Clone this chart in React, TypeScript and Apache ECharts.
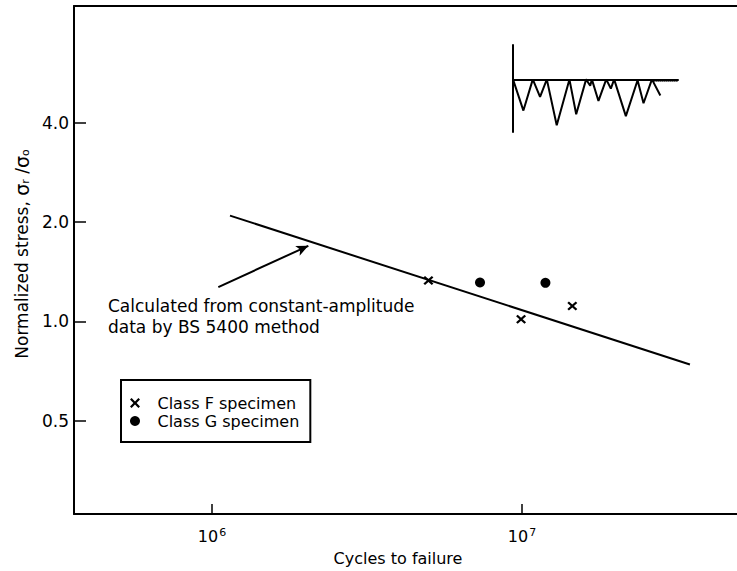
import React, { useEffect, useRef } from "react";
import * as echarts from "echarts";

// Fatigue test results: normalized stress range vs cycles to failure
const classF: [number, number][] = [
  [4.99e6, 1.33],
  [9.93e6, 1.015],
  [1.453e7, 1.113],
];
const classG: [number, number][] = [
  [7.32e6, 1.311],
  [1.19e7, 1.308],
];
// Design line calculated from constant-amplitude data (BS 5400)
const designLine: [number, number][] = [
  [1.143e6, 2.09],
  [3.48e7, 0.74],
];
// Pointer from the note to the design line
const arrowFrom: [number, number] = [1.048e6, 1.27];
const arrowTo: [number, number] = [2.045e6, 1.693];

const yTicks = [0.5, 1, 2, 4];
const xTicks = [1e6, 1e7];

// Variable-amplitude stress history sketch (time, stress below the peak level)
const historyT = [0, 6.3, 12.0, 16.4, 20.5, 26.5, 34.2, 38.3, 44.3, 46.8, 47.8, 51.8, 56.5, 59.3, 61.3, 68.4, 75.5, 79.1, 84.2, 89.3];
const historyS = [0, -0.68, 0, -0.38, 0, -1.0, 0, -0.76, 0, -0.14, 0, -0.47, 0, -0.2, 0, -0.8, -0.02, -0.52, 0, -0.35];

const FONT = "DejaVu Sans";
const X_MIN = 358800;
const X_MAX = 4.937e7;
const crossPath =
  "path://M0,1.6L1.6,0L5,3.4L8.4,0L10,1.6L6.6,5L10,8.4L8.4,10L5,6.6L1.6,10L0,8.4L3.4,5Z";

export default function App() {
  const ref = useRef<HTMLDivElement>(null);

  useEffect(() => {
    if (!ref.current) return;
    const chart = echarts.init(ref.current, null, { renderer: "svg" });
    const black = "#000";

    chart.setOption({
      animation: false,
      backgroundColor: "#fff",
      textStyle: { fontFamily: FONT, color: black },
      grid: [
        { left: 74, top: 6, right: 0, bottom: 53 },
        { left: 513, top: 45, width: 165, height: 87 },
      ],
      xAxis: [
        {
          type: "log",
          logBase: 10,
          gridIndex: 0,
          min: X_MIN,
          max: X_MAX,
          axisLine: { lineStyle: { color: black, width: 2 } },
          axisTick: { inside: true, length: 10, customValues: xTicks, lineStyle: { color: black, width: 1.5 } },
          splitLine: { show: false },
          minorTick: { show: false },
          axisLabel: {
            customValues: xTicks,
            margin: 13,
            color: black,
            fontFamily: FONT,
            fontSize: 16,
            formatter: (v: number) => `10{sup|${Math.round(Math.log10(v))}}`,
            rich: {
              sup: { fontSize: 11, fontFamily: FONT, color: black, verticalAlign: "top", padding: [0, 0, 8, 1] },
            },
          },
          name: "Cycles to failure",
          nameLocation: "middle",
          nameGap: 36,
          nameTextStyle: { fontFamily: FONT, fontSize: 16, color: black, padding: [0, 15, 0, 0] },
        },
        {
          type: "value",
          gridIndex: 1,
          min: 0,
          max: 100,
          axisLine: { show: true, onZero: true, lineStyle: { color: black, width: 2 } },
          axisTick: { show: false },
          axisLabel: { show: false },
          splitLine: { show: false },
        },
        {
          // top frame line of the main plot
          type: "log",
          logBase: 10,
          gridIndex: 0,
          position: "top",
          min: X_MIN,
          max: X_MAX,
          axisLine: { show: true, lineStyle: { color: black, width: 2 } },
          axisTick: { show: false },
          axisLabel: { show: false },
          splitLine: { show: false },
          minorTick: { show: false },
        },
      ],
      yAxis: [
        {
          type: "log",
          logBase: 10,
          gridIndex: 0,
          min: 0.2608,
          max: 9.02,
          axisLine: { lineStyle: { color: black, width: 2 } },
          axisTick: { inside: true, length: 12, customValues: yTicks, lineStyle: { color: black, width: 1.5 } },
          splitLine: { show: false },
          minorTick: { show: false },
          axisLabel: {
            customValues: yTicks,
            margin: 5,
            color: black,
            fontFamily: FONT,
            fontSize: 17,
            formatter: (v: number) => v.toFixed(1),
          },
          name: "Normalized stress, {sig|σ}{sub|r} /{sig|σ}{sub|o}",
          nameLocation: "middle",
          nameGap: 43,
          nameTextStyle: {
            fontFamily: FONT,
            fontSize: 17,
            color: black,
            padding: [0, 0, 0, 12],
            rich: {
              sig: { fontFamily: FONT, fontSize: 19, color: black },
              sub: { fontFamily: FONT, fontSize: 11, color: black, verticalAlign: "bottom", padding: [7, 0, 0, 0] },
            },
          },
        },
        {
          type: "value",
          gridIndex: 1,
          min: -1.147,
          max: 0.75,
          axisLine: { show: true, onZero: true, lineStyle: { color: black, width: 2 } },
          axisTick: { show: false },
          axisLabel: { show: false },
          splitLine: { show: false },
        },
      ],
      legend: {
        left: 121,
        top: 380,
        orient: "vertical",
        data: ["Class F specimen", "Class G specimen"],
        itemWidth: 11,
        itemHeight: 10,
        itemGap: 2,
        padding: [15, 11, 13, 9],
        borderColor: black,
        borderWidth: 2,
        selectedMode: false,
        textStyle: { fontFamily: FONT, fontSize: 16, color: black, padding: [0, 0, 0, 12] },
      },
      series: [
        {
          name: "BS 5400",
          type: "line",
          xAxisIndex: 0,
          yAxisIndex: 0,
          data: designLine,
          symbol: "none",
          lineStyle: { color: black, width: 2 },
          silent: true,
          markLine: {
            silent: true,
            symbol: ["none", "arrow"],
            symbolSize: [8, 12],
            label: { show: false },
            lineStyle: { color: black, width: 2, type: "solid" },
            data: [[{ coord: arrowFrom }, { coord: arrowTo }]],
          },
        },
        {
          name: "Class F specimen",
          type: "scatter",
          xAxisIndex: 0,
          yAxisIndex: 0,
          data: classF,
          symbol: crossPath,
          symbolSize: [10, 9],
          itemStyle: { color: black, opacity: 1 },
        },
        {
          name: "Class G specimen",
          type: "scatter",
          xAxisIndex: 0,
          yAxisIndex: 0,
          data: classG,
          symbol: "circle",
          symbolSize: 10,
          itemStyle: { color: black, opacity: 1 },
        },
        {
          name: "history",
          type: "line",
          xAxisIndex: 1,
          yAxisIndex: 1,
          data: historyT.map((t, i) => [t, historyS[i]]),
          symbol: "none",
          lineStyle: { color: black, width: 2 },
          silent: true,
          markLine: {
            silent: true,
            symbol: "none",
            label: { show: false },
            lineStyle: { color: black, width: 1, type: "dotted" },
            data: [[{ coord: [84, -0.04] }, { coord: [100, -0.04] }]],
          },
        },
      ],
      graphic: [
        {
          type: "text",
          left: 108,
          top: 295,
          silent: true,
          style: {
            text: "Calculated from constant-amplitude\ndata by BS 5400 method",
            font: `17px "${FONT}"`,
            lineHeight: 21,
            fill: black,
          },
        },
      ],
    });

    return () => chart.dispose();
  }, []);

  return (
    <div
      ref={ref}
      style={{ position: "absolute", left: 0, top: 0, width: 737, height: 571 }}
    />
  );
}
